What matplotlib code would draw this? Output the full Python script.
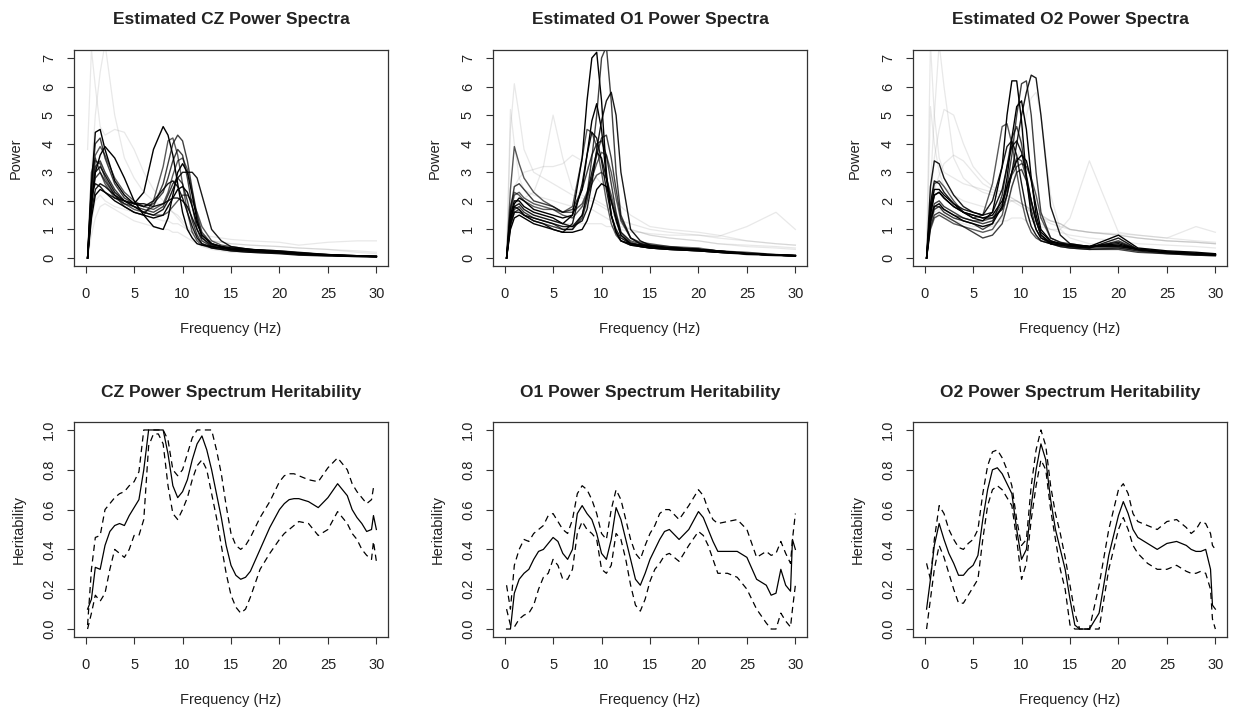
import numpy as np
import matplotlib
matplotlib.use("Agg")
import matplotlib.pyplot as plt

plt.rcParams['font.family'] = ['Liberation Sans', 'DejaVu Sans']

# frequency grid for the estimated spectra (Hz)
spec_hz = [0.2, 0.6, 1, 1.5, 2, 3, 4, 5, 6, 7, 8, 8.5, 9, 9.5, 10, 10.5,
           11, 11.5, 12, 13, 14, 15, 17, 20, 22, 25, 28, 30]

# --- CZ spectra: dark curves and faint curves
cz_dark = [
    [0, 2.5, 4.4, 4.5, 3.8, 2.7, 2.2, 1.9, 2.3, 3.8, 4.6, 4.3, 3.6, 2.6, 1.6, 1.0, 0.7, 0.5, 0.45, 0.4, 0.35, 0.3, 0.25, 0.2, 0.15, 0.1, 0.06, 0.05],
    [0, 1.8, 3.2, 3.4, 3.0, 2.4, 2.0, 1.8, 1.6, 1.8, 2.6, 3.3, 4.0, 4.3, 4.1, 3.4, 2.4, 1.5, 0.9, 0.5, 0.4, 0.3, 0.25, 0.2, 0.15, 0.1, 0.07, 0.05],
    [0, 2.0, 3.0, 3.2, 2.9, 2.3, 2.0, 1.8, 1.6, 1.5, 1.7, 2.0, 2.4, 2.8, 3.0, 3.0, 3.0, 2.8, 2.2, 1.0, 0.6, 0.4, 0.3, 0.25, 0.2, 0.12, 0.08, 0.06],
    [0, 2.2, 3.4, 3.3, 2.8, 2.2, 1.8, 1.6, 1.5, 2.0, 3.2, 4.1, 4.2, 3.6, 2.6, 1.6, 0.9, 0.6, 0.45, 0.35, 0.3, 0.25, 0.2, 0.17, 0.12, 0.08, 0.05, 0.04],
    [0, 1.8, 3.0, 3.6, 3.9, 3.5, 2.8, 2.0, 1.5, 1.1, 1.0, 1.4, 2.2, 3.0, 3.3, 3.0, 2.2, 1.3, 0.8, 0.5, 0.4, 0.3, 0.25, 0.2, 0.15, 0.1, 0.07, 0.05],
    [0, 2.0, 2.8, 3.0, 2.7, 2.2, 1.9, 1.8, 1.7, 1.6, 1.8, 2.2, 2.6, 2.8, 2.6, 2.0, 1.3, 0.8, 0.5, 0.4, 0.35, 0.3, 0.25, 0.2, 0.15, 0.1, 0.06, 0.05],
    [0, 1.6, 2.4, 2.6, 2.5, 2.2, 2.0, 1.9, 1.8, 2.0, 2.4, 2.6, 2.7, 2.5, 2.1, 1.6, 1.1, 0.7, 0.5, 0.35, 0.3, 0.25, 0.2, 0.15, 0.1, 0.07, 0.05, 0.04],
    [0, 2.4, 3.6, 3.9, 3.6, 2.8, 2.3, 2.0, 1.8, 1.7, 1.9, 2.3, 2.9, 3.4, 3.5, 3.1, 2.3, 1.4, 0.7, 0.4, 0.35, 0.3, 0.25, 0.2, 0.15, 0.1, 0.07, 0.05],
    [0, 1.4, 2.2, 2.4, 2.3, 2.0, 1.8, 1.6, 1.5, 1.4, 1.5, 1.8, 2.1, 2.4, 2.5, 2.3, 1.8, 1.2, 0.8, 0.5, 0.4, 0.35, 0.3, 0.22, 0.15, 0.1, 0.07, 0.05],
    [0, 2.6, 4.0, 4.2, 3.5, 2.6, 2.1, 1.9, 1.8, 1.9, 2.3, 2.8, 3.4, 3.8, 3.6, 2.8, 1.8, 1.0, 0.6, 0.4, 0.35, 0.3, 0.25, 0.2, 0.15, 0.1, 0.07, 0.05],
    [0, 2.2, 2.6, 2.5, 2.3, 2.1, 2.0, 1.9, 1.9, 1.8, 1.9, 2.0, 2.1, 2.1, 2.0, 1.8, 1.4, 1.0, 0.7, 0.45, 0.4, 0.35, 0.3, 0.22, 0.18, 0.12, 0.08, 0.06],
    [0, 3.0, 3.5, 3.0, 2.6, 2.1, 1.9, 1.7, 1.6, 1.5, 1.5, 1.6, 1.8, 2.0, 2.2, 2.2, 2.0, 1.6, 1.1, 0.6, 0.45, 0.4, 0.3, 0.25, 0.18, 0.12, 0.08, 0.06],
]
cz_faint = [
    [3.8, 7.3, 6.0, 4.6, 4.3, 4.5, 4.4, 3.8, 3.0, 2.4, 2.0, 1.8, 1.6, 1.4, 1.2, 1.0, 0.9, 0.8, 0.7, 0.6, 0.55, 0.5, 0.45, 0.4, 0.35, 0.3, 0.25, 0.2],
    [0, 3.0, 5.0, 6.5, 7.5, 5.0, 3.5, 2.8, 2.3, 2.0, 1.8, 1.7, 1.6, 1.5, 1.3, 1.1, 0.9, 0.8, 0.7, 0.6, 0.55, 0.5, 0.45, 0.4, 0.35, 0.3, 0.2, 0.15],
    [0, 1.2, 2.0, 2.2, 2.0, 1.8, 1.7, 1.6, 1.5, 1.4, 1.3, 1.3, 1.2, 1.2, 1.1, 1.0, 0.9, 0.85, 0.8, 0.75, 0.7, 0.65, 0.6, 0.55, 0.45, 0.55, 0.6, 0.6],
    [0, 0.8, 1.4, 1.8, 1.9, 1.7, 1.5, 1.3, 1.2, 1.1, 1.0, 1.0, 0.9, 0.9, 0.8, 0.7, 0.6, 0.5, 0.4, 0.3, 0.25, 0.2, 0.2, 0.15, 0.12, 0.1, 0.08, 0.06],
]

# --- O1 spectra
o1_dark = [
    [0, 1.5, 2.0, 2.0, 1.8, 1.6, 1.5, 1.4, 1.2, 1.5, 3.5, 5.5, 7.0, 7.2, 5.5, 3.0, 1.5, 0.9, 0.6, 0.5, 0.45, 0.4, 0.35, 0.3, 0.2, 0.15, 0.1, 0.08],
    [0, 1.2, 1.7, 1.8, 1.6, 1.4, 1.3, 1.2, 1.0, 1.0, 1.5, 2.2, 3.5, 5.0, 7.0, 7.4, 5.5, 3.0, 1.5, 0.7, 0.5, 0.4, 0.35, 0.3, 0.25, 0.15, 0.1, 0.08],
    [0, 1.4, 1.8, 1.9, 1.7, 1.5, 1.4, 1.3, 1.2, 1.1, 1.3, 1.7, 2.6, 3.8, 4.8, 5.5, 5.8, 5.0, 3.0, 1.0, 0.6, 0.45, 0.35, 0.3, 0.25, 0.15, 0.1, 0.08],
    [0, 2.4, 3.9, 3.3, 2.8, 2.3, 2.0, 1.8, 1.6, 1.8, 3.5, 4.5, 4.4, 3.9, 3.0, 2.0, 1.2, 0.8, 0.6, 0.45, 0.4, 0.35, 0.3, 0.25, 0.2, 0.12, 0.08, 0.06],
    [0, 1.3, 1.9, 2.1, 2.0, 1.7, 1.6, 1.5, 1.4, 1.5, 2.4, 3.6, 4.8, 5.4, 4.5, 2.8, 1.5, 0.9, 0.6, 0.45, 0.4, 0.35, 0.3, 0.25, 0.2, 0.15, 0.1, 0.08],
    [0, 1.1, 1.6, 1.7, 1.5, 1.3, 1.2, 1.1, 1.0, 1.0, 1.4, 2.0, 2.8, 3.6, 4.2, 4.3, 3.5, 2.4, 1.4, 0.7, 0.5, 0.45, 0.35, 0.3, 0.25, 0.15, 0.1, 0.08],
    [0, 1.2, 1.6, 1.6, 1.5, 1.4, 1.3, 1.2, 1.1, 1.1, 1.5, 2.2, 3.0, 3.7, 3.5, 2.8, 2.0, 1.3, 0.8, 0.5, 0.45, 0.4, 0.35, 0.3, 0.22, 0.15, 0.1, 0.08],
    [0, 1.6, 2.2, 2.3, 2.1, 1.9, 1.8, 1.7, 1.5, 1.4, 1.8, 2.2, 2.6, 2.9, 3.0, 2.8, 2.2, 1.5, 0.9, 0.6, 0.5, 0.45, 0.4, 0.35, 0.25, 0.2, 0.12, 0.1],
    [0, 1.0, 1.4, 1.5, 1.4, 1.2, 1.1, 1.0, 0.9, 0.9, 1.0, 1.3, 1.8, 2.4, 2.6, 2.5, 2.0, 1.4, 0.8, 0.5, 0.4, 0.35, 0.3, 0.25, 0.2, 0.15, 0.1, 0.08],
    [0, 1.7, 2.5, 2.6, 2.4, 2.0, 1.9, 1.8, 1.6, 1.7, 2.4, 3.0, 3.6, 4.0, 4.1, 3.6, 2.6, 1.6, 0.9, 0.55, 0.45, 0.4, 0.35, 0.3, 0.22, 0.15, 0.1, 0.08],
    [0, 1.4, 1.8, 1.7, 1.5, 1.3, 1.2, 1.0, 0.9, 1.2, 2.6, 3.6, 4.4, 4.2, 3.4, 2.4, 1.5, 1.0, 0.7, 0.5, 0.45, 0.4, 0.35, 0.3, 0.22, 0.15, 0.1, 0.08],
    [0, 1.8, 2.3, 2.2, 2.0, 1.8, 1.7, 1.7, 1.6, 1.6, 1.9, 2.3, 2.8, 3.3, 3.7, 3.6, 3.0, 2.1, 1.3, 0.7, 0.55, 0.5, 0.4, 0.3, 0.25, 0.18, 0.12, 0.1],
]
o1_faint = [
    [0, 5.2, 4.0, 2.8, 2.4, 2.2, 2.1, 2.0, 1.9, 1.8, 1.8, 1.8, 1.7, 1.6, 1.5, 1.4, 1.3, 1.2, 1.1, 1.0, 0.9, 0.8, 0.7, 0.6, 0.5, 0.45, 0.4, 0.35],
    [0, 4.5, 6.1, 5.0, 3.8, 3.0, 2.8, 2.6, 2.4, 2.2, 2.1, 2.0, 2.0, 1.9, 1.8, 1.7, 1.6, 1.4, 1.3, 1.2, 1.1, 1.0, 0.9, 0.8, 0.7, 0.6, 0.5, 0.45],
    [0, 1.2, 1.8, 2.0, 2.1, 2.3, 3.2, 5.0, 3.5, 2.4, 2.2, 2.1, 2.1, 2.0, 1.9, 1.8, 1.6, 1.4, 1.2, 1.0, 0.9, 0.8, 0.7, 0.6, 0.5, 0.4, 0.35, 0.3],
    [0, 1.0, 1.5, 1.6, 1.6, 1.5, 1.4, 1.3, 1.2, 1.2, 1.2, 1.2, 1.2, 1.2, 1.2, 1.1, 1.1, 1.0, 1.0, 0.9, 0.9, 0.85, 0.8, 0.8, 0.75, 1.1, 1.6, 1.0],
    [0, 1.5, 2.5, 2.8, 3.0, 3.1, 3.2, 3.2, 3.3, 3.6, 3.4, 3.2, 3.0, 2.8, 2.6, 2.4, 2.2, 2.0, 1.8, 1.5, 1.3, 1.1, 1.0, 0.9, 0.8, 0.6, 0.5, 0.45],
]

# --- O2 spectra
o2_dark = [
    [0, 1.5, 2.2, 2.3, 2.1, 1.8, 1.6, 1.4, 1.3, 1.6, 3.2, 5.0, 6.2, 6.2, 4.8, 2.8, 1.5, 1.0, 0.7, 0.55, 0.5, 0.45, 0.4, 0.45, 0.3, 0.2, 0.15, 0.12],
    [0, 1.4, 1.9, 2.0, 1.8, 1.6, 1.4, 1.3, 1.2, 1.3, 1.8, 2.5, 3.6, 5.0, 6.1, 6.2, 5.0, 3.0, 1.6, 0.7, 0.55, 0.45, 0.4, 0.4, 0.3, 0.2, 0.15, 0.12],
    [0, 1.6, 2.2, 2.3, 2.1, 1.8, 1.6, 1.5, 1.4, 1.4, 1.7, 2.2, 3.0, 4.0, 5.0, 5.8, 6.4, 6.3, 5.0, 1.8, 0.8, 0.5, 0.4, 0.4, 0.3, 0.2, 0.15, 0.12],
    [0, 1.8, 2.6, 2.7, 2.5, 2.0, 1.6, 1.4, 1.5, 2.6, 4.6, 4.7, 4.0, 3.0, 2.0, 1.3, 0.9, 0.7, 0.6, 0.5, 0.45, 0.4, 0.35, 0.35, 0.25, 0.18, 0.12, 0.1],
    [0, 1.3, 1.8, 1.9, 1.7, 1.5, 1.3, 1.2, 1.1, 1.2, 1.8, 2.8, 4.2, 5.3, 5.5, 4.5, 2.8, 1.5, 0.9, 0.6, 0.5, 0.45, 0.4, 0.5, 0.3, 0.2, 0.15, 0.1],
    [0, 1.2, 1.7, 1.8, 1.6, 1.4, 1.3, 1.2, 1.0, 1.2, 2.2, 3.2, 4.2, 4.6, 4.0, 2.8, 1.7, 1.0, 0.7, 0.5, 0.45, 0.4, 0.35, 0.6, 0.3, 0.2, 0.15, 0.1],
    [0, 2.5, 3.4, 3.3, 2.8, 2.2, 1.8, 1.6, 1.5, 2.0, 3.2, 3.9, 4.1, 3.6, 2.6, 1.7, 1.1, 0.8, 0.6, 0.5, 0.45, 0.4, 0.35, 0.7, 0.3, 0.2, 0.15, 0.12],
    [0, 1.0, 1.4, 1.5, 1.4, 1.2, 1.1, 1.0, 0.9, 1.0, 1.5, 2.2, 3.0, 3.5, 3.4, 2.8, 2.0, 1.3, 0.8, 0.5, 0.4, 0.35, 0.3, 0.35, 0.25, 0.15, 0.1, 0.08],
    [0, 1.7, 2.4, 2.4, 2.2, 1.9, 1.6, 1.5, 1.4, 1.5, 2.0, 2.5, 3.0, 3.4, 3.6, 3.4, 2.7, 1.8, 1.0, 0.6, 0.5, 0.45, 0.4, 0.8, 0.35, 0.25, 0.2, 0.15],
    [0, 1.1, 1.5, 1.6, 1.5, 1.3, 1.1, 0.9, 0.7, 0.8, 1.2, 1.8, 2.5, 3.0, 3.1, 2.7, 2.0, 1.3, 0.8, 0.5, 0.4, 0.35, 0.3, 0.3, 0.2, 0.15, 0.1, 0.08],
    [0, 1.9, 2.7, 2.6, 2.3, 1.9, 1.7, 1.6, 1.5, 1.6, 2.4, 3.2, 3.9, 4.1, 3.7, 2.9, 2.0, 1.3, 0.8, 0.55, 0.5, 0.45, 0.4, 0.55, 0.3, 0.2, 0.15, 0.12],
    [0, 1.3, 1.8, 1.8, 1.7, 1.5, 1.4, 1.3, 1.3, 1.4, 1.9, 2.4, 2.9, 3.2, 3.3, 3.2, 2.8, 2.2, 1.4, 0.7, 0.55, 0.5, 0.4, 0.45, 0.3, 0.22, 0.15, 0.12],
]
o2_faint = [
    [0, 7.5, 5.0, 3.5, 3.0, 2.8, 2.6, 2.5, 2.4, 2.3, 2.2, 2.1, 2.0, 2.0, 1.9, 1.8, 1.7, 1.6, 1.5, 1.3, 1.2, 1.0, 0.9, 0.8, 0.7, 0.6, 0.55, 0.5],
    [0, 2.5, 5.0, 7.5, 6.0, 3.5, 2.8, 2.5, 2.3, 2.2, 2.1, 2.0, 2.0, 1.9, 1.8, 1.7, 1.6, 1.5, 1.4, 1.3, 1.2, 1.0, 0.9, 0.8, 0.7, 0.6, 0.55, 0.5],
    [0, 1.5, 2.4, 2.9, 3.3, 3.6, 3.4, 3.0, 2.6, 2.4, 2.3, 2.2, 2.1, 2.0, 1.9, 1.8, 1.6, 1.5, 1.4, 1.2, 1.1, 1.0, 0.9, 0.85, 0.8, 0.7, 0.6, 0.55],
    [0, 1.0, 1.4, 1.5, 1.4, 1.3, 1.2, 1.1, 1.1, 1.2, 1.3, 1.3, 1.4, 1.4, 1.4, 1.3, 1.3, 1.2, 1.1, 1.0, 1.0, 1.4, 3.4, 0.9, 0.8, 0.7, 1.1, 0.9],
    [0, 5.3, 4.0, 3.0, 2.5, 2.2, 2.0, 1.9, 1.8, 1.7, 1.8, 1.9, 2.0, 2.0, 1.9, 1.8, 1.6, 1.4, 1.2, 1.0, 0.9, 0.8, 0.7, 0.6, 0.5, 0.45, 0.4, 0.35],
    [0, 2.0, 3.5, 4.5, 5.2, 5.0, 4.0, 3.2, 2.8, 2.5, 2.3, 2.2, 2.1, 2.0, 1.9, 1.8, 1.7, 1.6, 1.5, 1.3, 1.2, 1.0, 0.9, 0.8, 0.7, 0.6, 0.55, 0.5],
    [0, 1.2, 1.6, 1.7, 1.6, 1.4, 1.3, 1.2, 1.1, 1.1, 1.4, 1.8, 2.4, 3.2, 4.2, 5.0, 5.6, 5.8, 5.0, 2.2, 1.0, 0.7, 0.5, 0.4, 0.35, 0.25, 0.2, 0.15],
]

# frequency grid for the heritability curves (Hz)
her_hz = [0.2, 0.6, 1, 1.5, 2, 2.5, 3, 3.5, 4, 4.5, 5, 5.5, 6, 6.5, 7, 7.5, 8, 8.5,
          9, 9.5, 10, 10.5, 11, 11.5, 12, 12.5, 13, 13.5, 14, 14.5, 15, 15.5, 16,
          16.5, 17, 18, 19, 20, 20.5, 21, 21.5, 22, 23, 24, 25, 26, 27, 27.5, 28,
          28.5, 29, 29.5, 29.7, 30]

cz_her = [0.10, 0.15, 0.31, 0.30, 0.42, 0.49, 0.52, 0.53, 0.52, 0.57, 0.61, 0.65, 0.80, 1.00, 1.00, 1.00, 1.00, 0.88,
          0.72, 0.66, 0.69, 0.75, 0.85, 0.93, 0.97, 0.90, 0.80, 0.68, 0.56, 0.42, 0.32, 0.27, 0.25,
          0.26, 0.29, 0.40, 0.51, 0.60, 0.63, 0.65, 0.655, 0.655, 0.64, 0.61, 0.66, 0.73, 0.67, 0.60, 0.56,
          0.53, 0.49, 0.50, 0.57, 0.50]
cz_upper = [0.02, 0.30, 0.46, 0.47, 0.60, 0.63, 0.66, 0.68, 0.69, 0.72, 0.74, 0.79, 1.00, 1.00, 1.00, 1.00, 1.00, 0.95,
            0.80, 0.77, 0.80, 0.88, 0.96, 1.00, 1.00, 1.00, 1.00, 0.90, 0.78, 0.62, 0.48, 0.42, 0.40,
            0.42, 0.46, 0.56, 0.64, 0.74, 0.77, 0.78, 0.78, 0.77, 0.75, 0.74, 0.81, 0.86, 0.80, 0.73, 0.69,
            0.66, 0.63, 0.65, 0.71, 0.70]
cz_lower = [0.00, 0.08, 0.17, 0.14, 0.18, 0.30, 0.40, 0.38, 0.36, 0.40, 0.47, 0.47, 0.55, 0.92, 0.98, 0.98, 0.93, 0.72,
            0.58, 0.55, 0.60, 0.66, 0.75, 0.82, 0.85, 0.80, 0.68, 0.56, 0.42, 0.28, 0.17, 0.11, 0.08,
            0.10, 0.16, 0.30, 0.38, 0.45, 0.48, 0.50, 0.52, 0.54, 0.53, 0.47, 0.50, 0.59, 0.53, 0.48, 0.45,
            0.40, 0.37, 0.35, 0.44, 0.34]

o1_her = [0.00, 0.00, 0.18, 0.25, 0.28, 0.30, 0.35, 0.39, 0.40, 0.43, 0.46, 0.44, 0.38, 0.35, 0.40, 0.58, 0.62, 0.58,
          0.55, 0.48, 0.38, 0.35, 0.45, 0.61, 0.55, 0.45, 0.35, 0.25, 0.22, 0.28, 0.35, 0.40, 0.45,
          0.49, 0.50, 0.45, 0.50, 0.59, 0.56, 0.50, 0.44, 0.39, 0.39, 0.39, 0.36, 0.25, 0.22, 0.17, 0.18,
          0.30, 0.22, 0.19, 0.45, 0.40]
o1_upper = [0.22, 0.10, 0.32, 0.40, 0.45, 0.44, 0.48, 0.50, 0.52, 0.57, 0.58, 0.54, 0.50, 0.48, 0.55, 0.68, 0.72, 0.70,
            0.65, 0.58, 0.48, 0.45, 0.60, 0.70, 0.65, 0.55, 0.45, 0.38, 0.35, 0.42, 0.48, 0.52, 0.58,
            0.60, 0.60, 0.55, 0.62, 0.70, 0.67, 0.60, 0.55, 0.53, 0.54, 0.55, 0.50, 0.36, 0.39, 0.37, 0.38,
            0.44, 0.38, 0.33, 0.45, 0.58]
o1_lower = [0.10, 0.02, 0.01, 0.05, 0.07, 0.08, 0.12, 0.20, 0.26, 0.28, 0.35, 0.32, 0.25, 0.25, 0.30, 0.48, 0.54, 0.50,
            0.48, 0.45, 0.30, 0.28, 0.32, 0.48, 0.45, 0.35, 0.22, 0.12, 0.09, 0.15, 0.24, 0.30, 0.33,
            0.37, 0.38, 0.34, 0.42, 0.49, 0.47, 0.42, 0.35, 0.28, 0.28, 0.26, 0.20, 0.10, 0.03, 0.00, 0.00,
            0.08, 0.04, 0.01, 0.10, 0.22]

o2_her = [0.10, 0.25, 0.42, 0.53, 0.45, 0.38, 0.33, 0.27, 0.27, 0.30, 0.32, 0.37, 0.55, 0.70, 0.80, 0.81, 0.78, 0.73,
          0.68, 0.50, 0.35, 0.40, 0.62, 0.80, 0.93, 0.85, 0.65, 0.50, 0.40, 0.30, 0.15, 0.02, 0.00,
          0.00, 0.00, 0.08, 0.37, 0.57, 0.64, 0.58, 0.50, 0.46, 0.43, 0.40, 0.43, 0.44, 0.42, 0.40, 0.39,
          0.39, 0.40, 0.30, 0.12, 0.10]
o2_upper = [0.33, 0.25, 0.45, 0.62, 0.58, 0.50, 0.45, 0.41, 0.40, 0.43, 0.45, 0.50, 0.68, 0.82, 0.89, 0.90, 0.86, 0.80,
            0.72, 0.55, 0.42, 0.45, 0.72, 0.90, 1.00, 0.92, 0.72, 0.58, 0.48, 0.36, 0.22, 0.08, 0.00,
            0.00, 0.00, 0.22, 0.50, 0.70, 0.73, 0.68, 0.58, 0.54, 0.52, 0.50, 0.54, 0.55, 0.51, 0.48, 0.50,
            0.54, 0.53, 0.48, 0.42, 0.40]
o2_lower = [0.00, 0.15, 0.30, 0.42, 0.36, 0.28, 0.20, 0.13, 0.13, 0.17, 0.21, 0.25, 0.45, 0.62, 0.70, 0.72, 0.70, 0.66,
            0.62, 0.45, 0.25, 0.33, 0.55, 0.72, 0.85, 0.80, 0.60, 0.45, 0.30, 0.20, 0.02, 0.00, 0.00,
            0.00, 0.00, 0.00, 0.30, 0.50, 0.56, 0.50, 0.42, 0.38, 0.33, 0.30, 0.30, 0.32, 0.29, 0.28, 0.28,
            0.29, 0.28, 0.20, 0.05, 0.00]

channels = ["CZ", "O1", "O2"]
spectra = [(cz_dark, cz_faint), (o1_dark, o1_faint), (o2_dark, o2_faint)]
heritability = [(cz_her, cz_upper, cz_lower), (o1_her, o1_upper, o1_lower), (o2_her, o2_upper, o2_lower)]

W, H = 1238, 710
fig = plt.figure(figsize=(W / 100, H / 100), dpi=100)

col_left = [74, 493, 913]
ax_w = 314
txt = '#222222'


def style_axes(ax):
    for s in ax.spines.values():
        s.set_color('#333333')
        s.set_linewidth(0.9)
    ax.tick_params(direction='out', length=5, width=0.8, color='#333333',
                   labelsize=10.5, labelcolor=txt)
    ax.tick_params(axis='x', pad=10)
    ax.tick_params(axis='y', pad=8, labelrotation=90)
    for t in ax.get_yticklabels():
        t.set_va('center')
    ax.set_xlim(-1.2, 31.2)
    ax.set_xticks([0, 5, 10, 15, 20, 25, 30])
    ax.set_xlabel('Frequency (Hz)', fontsize=10.5, color=txt, labelpad=15)


for i, ch in enumerate(channels):
    # top row: estimated spectra
    ax = fig.add_axes([col_left[i] / W, 1 - 266 / H, ax_w / W, 216 / H])
    dark, faint = spectra[i]
    for curve in faint:
        ax.plot(spec_hz, curve, color='#9a9a9a', lw=0.9, alpha=0.22)
    shades = [1.0, 0.75, 0.9, 0.65]
    for k, curve in enumerate(dark):
        ax.plot(spec_hz, curve, color='black', lw=1.0, alpha=shades[k % 4])
    ax.set_ylim(-0.28, 7.28)
    ax.set_yticks(range(8))
    style_axes(ax)
    ax.set_ylabel('Power', fontsize=10.5, color=txt, labelpad=14)
    ax.set_title('Estimated ' + ch + ' Power Spectra', fontsize=12.5, fontweight='bold',
                 color=txt, pad=19)

    # bottom row: heritability with confidence band
    ax = fig.add_axes([col_left[i] / W, 1 - 637 / H, ax_w / W, 215 / H])
    est, up, lo = heritability[i]
    ax.plot(her_hz, up, color='black', lw=0.9, dashes=(5, 3.5))
    ax.plot(her_hz, lo, color='black', lw=0.9, dashes=(5, 3.5))
    ax.plot(her_hz, est, color='black', lw=0.9)
    ax.set_ylim(-0.04, 1.04)
    ax.set_yticks([0.0, 0.2, 0.4, 0.6, 0.8, 1.0])
    ax.set_yticklabels(['0.0', '0.2', '0.4', '0.6', '0.8', '1.0'])
    style_axes(ax)
    ax.set_ylabel('Heritability', fontsize=10.5, color=txt, labelpad=12)
    ax.set_title(ch + ' Power Spectrum Heritability', fontsize=12.5, fontweight='bold',
                 color=txt, pad=18)

plt.savefig('out.png', dpi=100)
